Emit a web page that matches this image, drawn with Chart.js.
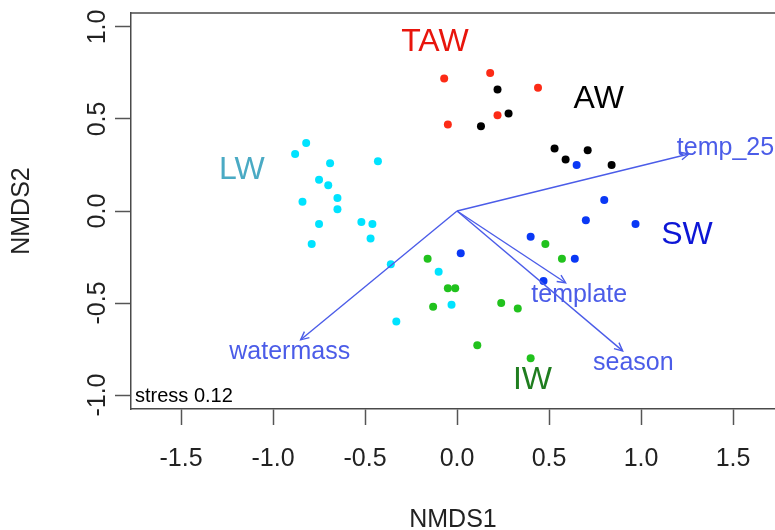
<!DOCTYPE html>
<html>
<head>
<meta charset="utf-8">
<script src="https://cdn.jsdelivr.net/npm/chart.js@4.4.1/dist/chart.umd.min.js"></script>
<style>
  html, body { margin: 0; padding: 0; background: #fff; }
</style>
</head>
<body>
<canvas id="nmds" width="775" height="530"></canvas>
<script>
// NMDS site scores, one array per water mass
const TAW = [[-0.07, 0.72], [0.18, 0.75], [0.44, 0.67], [0.22, 0.52], [-0.05, 0.47]];
const AW = [[0.22, 0.66], [0.28, 0.53], [0.13, 0.46], [0.53, 0.34], [0.59, 0.28], [0.71, 0.33], [0.84, 0.25]];
const LW = [[-0.82, 0.37], [-0.88, 0.31], [-0.69, 0.26], [-0.43, 0.27], [-0.75, 0.17], [-0.70, 0.14],
            [-0.84, 0.05], [-0.65, 0.07], [-0.65, 0.01], [-0.75, -0.07], [-0.52, -0.06], [-0.46, -0.07],
            [-0.47, -0.15], [-0.79, -0.18], [-0.36, -0.29], [-0.10, -0.33], [-0.33, -0.60], [-0.03, -0.51]];
const SW = [[0.02, -0.23], [0.40, -0.14], [0.70, -0.05], [0.97, -0.07], [0.64, -0.26], [0.47, -0.38],
            [0.80, 0.06], [0.65, 0.25]];
const IW = [[-0.16, -0.26], [-0.05, -0.42], [-0.01, -0.42], [-0.13, -0.52], [0.24, -0.50], [0.33, -0.53],
            [0.11, -0.73], [0.40, -0.80], [0.48, -0.18], [0.57, -0.26]];

// envfit vectors
const vecNames = ['temp_25', 'template', 'season', 'watermass'];
const vecX = [1.26, 0.59, 0.90, -0.85];
const vecY = [0.31, -0.39, -0.76, -0.70];

const xTicks = [-1.5, -1.0, -0.5, 0.0, 0.5, 1.0, 1.5];
const yTicks = [-1.0, -0.5, 0.0, 0.5, 1.0];
const stressText = 'stress 0.12';

const FONT = 'Liberation Sans, Arial, sans-serif';
const ARROW_COL = '#4b5ce8';

// group names written on the plot (data coords)
const groupTags = [
  { text: 'TAW', x: -0.12, y: 0.92, color: '#e8150c' },
  { text: 'AW', x: 0.77, y: 0.61, color: '#000000' },
  { text: 'LW', x: -1.17, y: 0.22, color: '#4aaac4' },
  { text: 'SW', x: 1.25, y: -0.13, color: '#0d16d6' },
  { text: 'IW', x: 0.41, y: -0.92, color: '#1f7d1f' }
];

const toPts = arr => arr.map(p => ({ x: p[0], y: p[1] }));

function pointSet(label, arr, color) {
  return {
    label: label, data: toPts(arr), order: 2,
    backgroundColor: color, borderColor: color,
    pointRadius: 4, pointBorderWidth: 0
  };
}

const arrowSets = vecNames.map((n, i) => ({
  label: n, isArrow: true, order: 0,
  data: [{ x: 0, y: 0 }, { x: vecX[i], y: vecY[i] }],
  showLine: true, borderColor: ARROW_COL, borderWidth: 1.4,
  pointRadius: 0
}));

const decor = {
  id: 'decor',
  afterDatasetsDraw(chart) {
    const { ctx, chartArea: a, scales: { x, y } } = chart;
    ctx.save();
    // top frame line
    ctx.strokeStyle = '#4a4a4a';
    ctx.lineWidth = 1.5;
    ctx.beginPath();
    ctx.moveTo(a.left, a.top);
    ctx.lineTo(a.right, a.top);
    ctx.stroke();

    // arrow heads + labels
    ctx.font = '25px ' + FONT;
    chart.data.datasets.forEach((ds, i) => {
      if (!ds.isArrow) return;
      const m = chart.getDatasetMeta(i).data;
      const x0 = m[0].x, y0 = m[0].y, x1 = m[1].x, y1 = m[1].y;
      const ang = Math.atan2(y1 - y0, x1 - x0);
      const L = 9, spread = Math.PI / 7;
      ctx.strokeStyle = ARROW_COL;
      ctx.lineWidth = 1.4;
      ctx.beginPath();
      ctx.moveTo(x1 - L * Math.cos(ang - spread), y1 - L * Math.sin(ang - spread));
      ctx.lineTo(x1, y1);
      ctx.lineTo(x1 - L * Math.cos(ang + spread), y1 - L * Math.sin(ang + spread));
      ctx.stroke();

      // label just beyond the tip, along the arrow direction
      const w = ctx.measureText(ds.label).width / 2 + 2;
      const h = 9;
      const len = Math.hypot(x1 - x0, y1 - y0);
      const dx = (x1 - x0) / len, dy = (y1 - y0) / len;
      const t = Math.min(w / Math.abs(dx || 1e-6), h / Math.abs(dy || 1e-6));
      ctx.fillStyle = ARROW_COL;
      ctx.textAlign = 'center';
      ctx.textBaseline = 'middle';
      ctx.fillText(ds.label, x1 + t * dx, y1 + t * dy + 3);
    });

    // group tags
    ctx.font = '32px ' + FONT;
    groupTags.forEach(g => {
      ctx.fillStyle = g.color;
      ctx.textAlign = 'center';
      ctx.textBaseline = 'middle';
      ctx.fillText(g.text, x.getPixelForValue(g.x), y.getPixelForValue(g.y));
    });

    // stress box
    ctx.font = '20px ' + FONT;
    const sw = ctx.measureText(stressText).width;
    ctx.fillStyle = '#fff';
    ctx.fillRect(a.left + 1, a.bottom - 30, sw + 8, 29);
    ctx.fillStyle = '#000';
    ctx.textAlign = 'left';
    ctx.textBaseline = 'alphabetic';
    ctx.fillText(stressText, a.left + 4, a.bottom - 7);
    ctx.restore();
  }
};

new Chart(document.getElementById('nmds'), {
  type: 'scatter',
  data: {
    datasets: [
      ...arrowSets,
      pointSet('TAW', TAW, '#fc2b16'),
      pointSet('AW', AW, '#000000'),
      pointSet('LW', LW, '#00e3ff'),
      pointSet('SW', SW, '#0a38f5'),
      pointSet('IW', IW, '#21c21d')
    ]
  },
  options: {
    responsive: false,
    animation: false,
    events: [],
    layout: { autoPadding: false, padding: { top: 13, right: 0, bottom: 0, left: 0 } },
    plugins: { legend: { display: false }, tooltip: { enabled: false } },
    scales: {
      x: {
        type: 'linear', min: -1.772, max: 1.728,
        afterBuildTicks: s => { s.ticks = xTicks.map(v => ({ value: v })); },
        afterFit: s => { s.height = 121; },
        grid: { drawOnChartArea: false, drawTicks: true, tickLength: 16, tickColor: '#555', tickWidth: 1.5 },
        border: { display: true, color: '#4a4a4a', width: 1.5 },
        ticks: { font: { family: FONT, size: 25 }, color: '#222', padding: 19, maxRotation: 0,
                 callback: v => v.toFixed(1) },
        title: { display: true, text: 'NMDS1', color: '#222',
                 font: { family: FONT, size: 25, lineHeight: 1 }, padding: { top: 0, bottom: -3 } }
      },
      y: {
        type: 'linear', min: -1.076, max: 1.076,
        afterBuildTicks: s => { s.ticks = yTicks.map(v => ({ value: v })); },
        afterFit: s => { s.width = 131; },
        grid: { drawOnChartArea: false, drawTicks: true, tickLength: 16, tickColor: '#555', tickWidth: 1.5 },
        border: { display: true, color: '#4a4a4a', width: 1.5 },
        ticks: { font: { family: FONT, size: 25 }, color: '#222', padding: -5,
                 minRotation: 90, maxRotation: 90, crossAlign: 'center',
                 callback: v => v.toFixed(1) },
        title: { display: true, text: 'NMDS2', color: '#222',
                 font: { family: FONT, size: 25, lineHeight: 1 }, padding: { top: 10, bottom: 0 } }
      }
    }
  },
  plugins: [decor]
});
</script>
</body>
</html>
